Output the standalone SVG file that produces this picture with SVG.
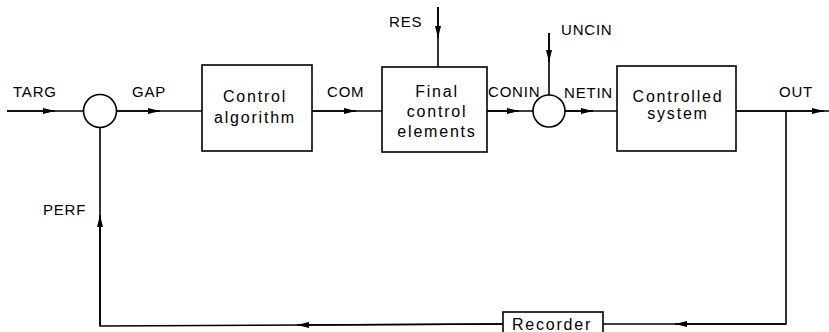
<svg xmlns="http://www.w3.org/2000/svg" width="829" height="332" viewBox="0 0 829 332">
<defs>
<marker id="ah" viewBox="0 0 12 6" refX="12" refY="3" markerWidth="12" markerHeight="6" markerUnits="userSpaceOnUse" orient="auto">
<path d="M0,0 L12,3 L0,6 Z" fill="#000"/>
</marker>
</defs>
<style>
.ln{stroke:#000;stroke-width:1.6;fill:none}
.bx{stroke:#000;stroke-width:1.6;fill:#fff}
text{font-family:"Liberation Sans",Arial,sans-serif;fill:#000}
.lb{font-size:15px;letter-spacing:0.8px}
.t{font-size:16px;letter-spacing:1.8px;text-anchor:middle}
</style>
<rect width="829" height="332" fill="#fff"/>
<g id="connectors">
<line class="ln" x1="7" y1="111" x2="83" y2="111"/>
<line class="ln" x1="7" y1="111" x2="55" y2="111" marker-end="url(#ah)"/>
<line class="ln" x1="116" y1="111" x2="202" y2="111"/>
<line class="ln" x1="116" y1="111" x2="160" y2="111" marker-end="url(#ah)"/>
<line class="ln" x1="312" y1="111" x2="382" y2="111"/>
<line class="ln" x1="312" y1="111" x2="356" y2="111" marker-end="url(#ah)"/>
<line class="ln" x1="487" y1="111" x2="533" y2="111"/>
<line class="ln" x1="487" y1="111" x2="519" y2="111" marker-end="url(#ah)"/>
<line class="ln" x1="565" y1="111" x2="617" y2="111"/>
<line class="ln" x1="565" y1="111" x2="593" y2="111" marker-end="url(#ah)"/>
<line class="ln" x1="736" y1="111" x2="829" y2="111"/>
<line class="ln" x1="736" y1="111" x2="824" y2="111" marker-end="url(#ah)"/>
<line class="ln" x1="438" y1="7" x2="438" y2="67"/>
<line class="ln" x1="438" y1="7" x2="438" y2="38" marker-end="url(#ah)"/>
<line class="ln" x1="549" y1="33" x2="549" y2="95"/>
<line class="ln" x1="549" y1="33" x2="549" y2="62" marker-end="url(#ah)"/>
<polyline class="ln" points="786,111 786,324 603,324"/>
<line class="ln" x1="786" y1="324" x2="675" y2="324" marker-end="url(#ah)"/>
<polyline class="ln" points="503,324 100,326 100,127"/>
<line class="ln" x1="503" y1="324" x2="297" y2="325" marker-end="url(#ah)"/>
<line class="ln" x1="100" y1="326" x2="100" y2="215" marker-end="url(#ah)"/>
</g>
<g id="sum1"><circle class="bx" cx="100" cy="111" r="16.5"/></g>
<g id="sum2"><circle class="bx" cx="549" cy="111" r="16"/></g>
<g id="control-algorithm">
<rect class="bx" x="202" y="65" width="110" height="86"/>
<text class="t" x="255" y="102">Control</text>
<text class="t" x="255" y="123">algorithm</text>
</g>
<g id="final-control">
<rect class="bx" x="382" y="67" width="105" height="85"/>
<text class="t" x="437" y="97">Final</text>
<text class="t" x="437" y="117">control</text>
<text class="t" x="437" y="137">elements</text>
</g>
<g id="controlled-system">
<rect class="bx" x="617" y="66" width="119" height="85"/>
<text class="t" x="678" y="102">Controlled</text>
<text class="t" x="678" y="119">system</text>
</g>
<g id="recorder">
<rect class="bx" x="503" y="312" width="100" height="24"/>
<text class="t" x="552" y="330">Recorder</text>
</g>
<g id="labels">
<text class="lb" x="13" y="97">TARG</text>
<text class="lb" x="132" y="97">GAP</text>
<text class="lb" x="327" y="97">COM</text>
<text class="lb" x="389" y="27">RES</text>
<text class="lb" x="488" y="97">CONIN</text>
<text class="lb" x="561" y="35">UNCIN</text>
<text class="lb" x="564" y="98">NETIN</text>
<text class="lb" x="779" y="97">OUT</text>
<text class="lb" x="43" y="215">PERF</text>
</g>
</svg>
